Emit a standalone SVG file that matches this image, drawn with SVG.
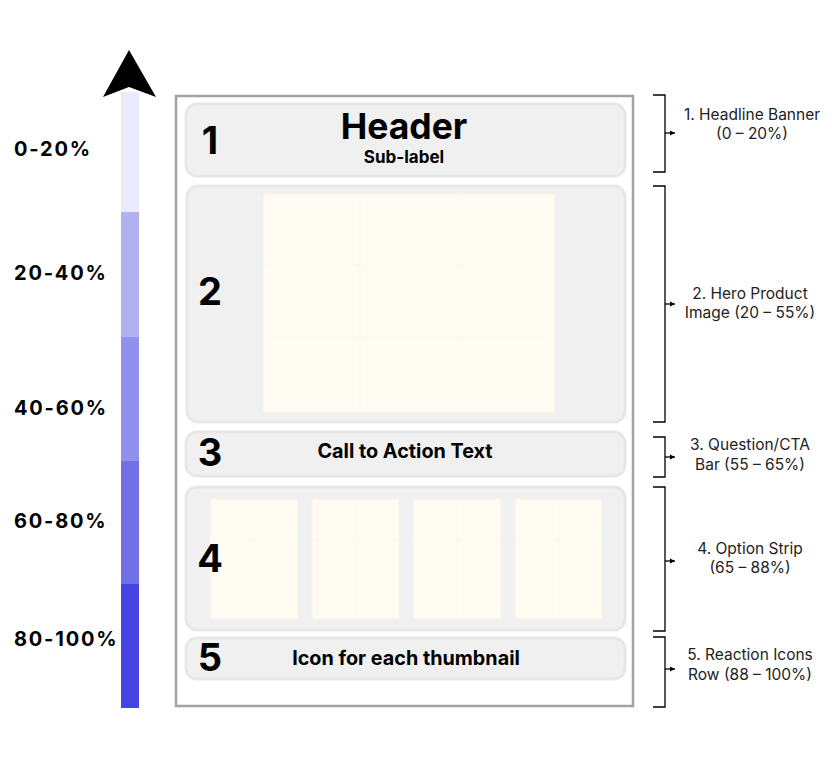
<svg xmlns="http://www.w3.org/2000/svg" width="832" height="768" viewBox="0 0 832 768">
<defs>
<marker id="ah" markerWidth="6" markerHeight="6" refX="5" refY="3" orient="auto" markerUnits="userSpaceOnUse">
<path d="M0,0.5 L5,3 L0,5.5 Z" fill="#000"/>
</marker>
</defs>
<style>
.sec{fill:#f0f0f0;stroke:#e7e7e7;stroke-width:3}
.img{fill:#fefcf2;stroke:#f6f4eb;stroke-width:1.5}
.grid{stroke:#faf7ec;stroke-width:1;fill:none}
.num{font-family:Inter,"Liberation Sans",sans-serif;font-weight:700;font-size:38px;fill:#000;text-anchor:middle}
.lbl{font-family:Inter,"Liberation Sans",sans-serif;font-weight:700;font-size:19.8px;fill:#000;text-anchor:middle}
.pct{font-family:Inter,"Liberation Sans",sans-serif;font-weight:700;font-size:20px;letter-spacing:1.8px;fill:#000}
.note{font-family:Inter,"Liberation Sans",sans-serif;font-size:15.5px;fill:#222;text-anchor:middle}
.br{fill:none;stroke:#000;stroke-width:1.3}
</style>
<rect width="832" height="768" fill="#fff"/>

<g id="scale">
<rect x="121" y="92" width="18" height="121" fill="#ebeafd"/>
<rect x="121" y="212" width="18" height="125" fill="#b1b0f0"/>
<rect x="121" y="337" width="18" height="124" fill="#9190ec"/>
<rect x="121" y="461" width="18" height="123" fill="#7170e6"/>
<rect x="121" y="584" width="18" height="124" fill="#4644e0"/>
<path d="M129,50 L156,97 L129,87 L103,97 Z" fill="#000"/>
<text class="pct" x="14" y="156">0-20%</text>
<text class="pct" x="14" y="280">20-40%</text>
<text class="pct" x="14" y="415">40-60%</text>
<text class="pct" x="14" y="528">60-80%</text>
<text class="pct" x="14" y="646">80-100%</text>
</g>

<g id="frame">
<rect x="176" y="96" width="457" height="610" fill="#fff" stroke="#a3a3a3" stroke-width="2.5"/>
</g>

<g id="s1">
<rect class="sec" x="186" y="104" width="439" height="72" rx="11"/>
<text class="num" x="210" y="154">1</text>
<text x="404" y="139" font-family="Inter,'Liberation Sans',sans-serif" font-weight="700" font-size="35.5" text-anchor="middle">Header</text>
<text x="404" y="163" font-family="Inter,'Liberation Sans',sans-serif" font-weight="700" font-size="17" text-anchor="middle">Sub-label</text>
</g>

<g id="s2">
<rect class="sec" x="187" y="186" width="438" height="236" rx="11"/>
<rect class="img" x="263" y="194" width="292" height="219" rx="3"/>
<path class="grid" d="M360,198 V410 M458,198 V410 M267,265 H551 M267,338 H551"/>
<text class="num" x="210" y="305">2</text>
</g>

<g id="s3">
<rect class="sec" x="186" y="432" width="439" height="44" rx="11"/>
<text class="num" x="210" y="466">3</text>
<text class="lbl" x="405" y="458">Call to Action Text</text>
</g>

<g id="s4">
<rect class="sec" x="186" y="487" width="439" height="143" rx="11"/>
<rect class="img" x="210" y="499" width="88" height="120" rx="2"/>
<rect class="img" x="312" y="499" width="87" height="120" rx="2"/>
<rect class="img" x="413" y="499" width="88" height="120" rx="2"/>
<rect class="img" x="515" y="499" width="87" height="120" rx="2"/>
<path class="grid" d="M210,540 H298 M312,540 H399 M413,540 H501 M515,540 H602 M254,503 V615 M356,503 V615 M457,503 V615 M559,503 V615"/>
<text class="num" x="210" y="572">4</text>
</g>

<g id="s5">
<rect class="sec" x="186" y="638" width="439" height="41" rx="11"/>
<text class="num" x="210" y="671">5</text>
<text class="lbl" x="406" y="665">Icon for each thumbnail</text>
</g>

<g id="connectors">
<path class="br" d="M653,95 H665 V172 H653"/>
<line class="br" x1="665" y1="133" x2="675" y2="133" marker-end="url(#ah)"/>
<path class="br" d="M653,186 H665 V422 H653"/>
<line class="br" x1="665" y1="304" x2="675" y2="304" marker-end="url(#ah)"/>
<path class="br" d="M653,437 H665 V477 H653"/>
<line class="br" x1="665" y1="457" x2="675" y2="457" marker-end="url(#ah)"/>
<path class="br" d="M653,487 H665 V631 H653"/>
<line class="br" x1="665" y1="561" x2="675" y2="561" marker-end="url(#ah)"/>
<path class="br" d="M653,637 H665 V707 H653"/>
<line class="br" x1="665" y1="669" x2="675" y2="669" marker-end="url(#ah)"/>
</g>

<g id="notes">
<text class="note" x="752" y="120">1. Headline Banner</text>
<text class="note" x="752" y="139">(0 – 20%)</text>
<text class="note" x="750" y="299">2. Hero Product</text>
<text class="note" x="750" y="318">Image (20 – 55%)</text>
<text class="note" x="750" y="450">3. Question/CTA</text>
<text class="note" x="750" y="470">Bar (55 – 65%)</text>
<text class="note" x="750" y="554">4. Option Strip</text>
<text class="note" x="750" y="573">(65 – 88%)</text>
<text class="note" x="750" y="660">5. Reaction Icons</text>
<text class="note" x="750" y="680">Row (88 – 100%)</text>
</g>
</svg>
